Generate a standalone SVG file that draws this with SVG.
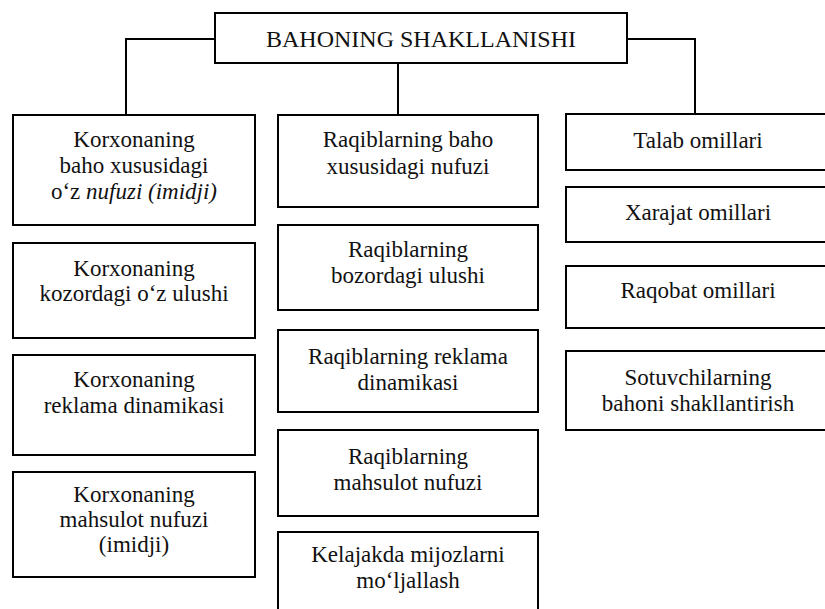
<svg xmlns="http://www.w3.org/2000/svg" width="825" height="609" viewBox="0 0 825 609">
<style>
  .box { fill: #ffffff; stroke: #000000; stroke-width: 2; }
  .conn { fill: none; stroke: #000000; stroke-width: 2; }
  text { font-family: "Liberation Serif", "Times New Roman", serif; font-size: 23px; fill: #111111; text-anchor: middle; }
  .title { font-size: 24px; }
  .it { font-style: italic; }
</style>
<rect width="825" height="609" fill="#ffffff"/>
<g id="connectors">
  <path class="conn" d="M215,39 H126 V115"/>
  <path class="conn" d="M398,63 V115"/>
  <path class="conn" d="M627,39 H695 V114"/>
</g>
<g id="root">
  <rect class="box" x="215" y="13" width="412" height="50"/>
  <text class="title" x="421" y="47" textLength="310" lengthAdjust="spacingAndGlyphs">BAHONING SHAKLLANISHI</text>
</g>
<g id="l1">
  <rect class="box" x="13" y="115" width="242" height="110"/>
  <text x="134" y="147">Korxonaning</text>
  <text x="134" y="173">baho xususidagi</text>
  <text x="134" y="199">o‘z <tspan class="it">nufuzi (imidji)</tspan></text>
</g>
<g id="l2">
  <rect class="box" x="13" y="243" width="242" height="95"/>
  <text x="134" y="276">Korxonaning</text>
  <text x="134" y="301">kozordagi o‘z ulushi</text>
</g>
<g id="l3">
  <rect class="box" x="13" y="355" width="242" height="100"/>
  <text x="134" y="387">Korxonaning</text>
  <text x="134" y="413">reklama dinamikasi</text>
</g>
<g id="l4">
  <rect class="box" x="13" y="472" width="242" height="105"/>
  <text x="134" y="502">Korxonaning</text>
  <text x="134" y="527">mahsulot nufuzi</text>
  <text x="134" y="552">(imidji)</text>
</g>
<g id="m1">
  <rect class="box" x="278" y="115" width="260" height="92"/>
  <text x="408" y="147">Raqiblarning baho</text>
  <text x="408" y="174">xususidagi nufuzi</text>
</g>
<g id="m2">
  <rect class="box" x="278" y="225" width="260" height="85"/>
  <text x="408" y="257">Raqiblarning</text>
  <text x="408" y="283">bozordagi ulushi</text>
</g>
<g id="m3">
  <rect class="box" x="278" y="330" width="260" height="82"/>
  <text x="408" y="364">Raqiblarning reklama</text>
  <text x="408" y="390">dinamikasi</text>
</g>
<g id="m4">
  <rect class="box" x="278" y="430" width="260" height="86"/>
  <text x="408" y="464">Raqiblarning</text>
  <text x="408" y="490">mahsulot nufuzi</text>
</g>
<g id="m5">
  <rect class="box" x="278" y="532" width="260" height="90"/>
  <text x="408" y="562">Kelajakda mijozlarni</text>
  <text x="408" y="588">mo‘ljallash</text>
</g>
<g id="r1">
  <rect class="box" x="566" y="114" width="264" height="56"/>
  <text x="698" y="148">Talab omillari</text>
</g>
<g id="r2">
  <rect class="box" x="566" y="187" width="264" height="55"/>
  <text x="698" y="220">Xarajat omillari</text>
</g>
<g id="r3">
  <rect class="box" x="566" y="266" width="264" height="62"/>
  <text x="698" y="298">Raqobat omillari</text>
</g>
<g id="r4">
  <rect class="box" x="566" y="351" width="264" height="79"/>
  <text x="698" y="385">Sotuvchilarning</text>
  <text x="698" y="411">bahoni shakllantirish</text>
</g>
</svg>
